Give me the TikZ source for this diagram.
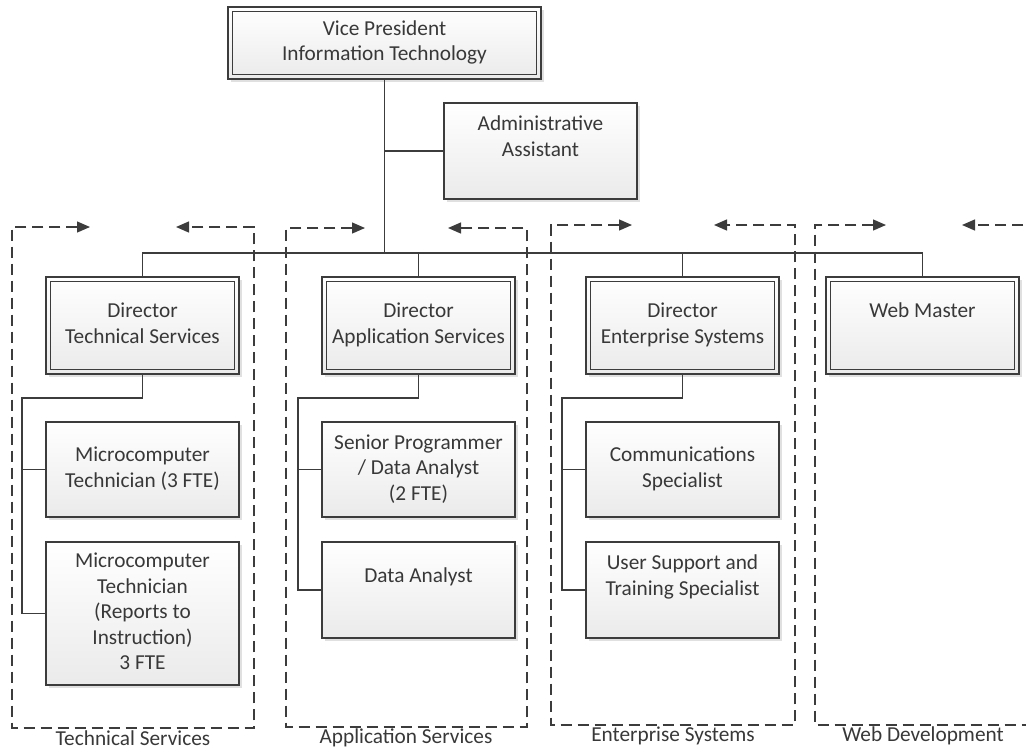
\documentclass[tikz,border=0pt]{standalone}
\usepackage{fontspec}
\setmainfont{Carlito}
\usetikzlibrary{arrows.meta,shadows}
\definecolor{ln}{HTML}{3C3C3C}
\definecolor{tx}{HTML}{383838}
\begin{document}
\begin{tikzpicture}[x=1pt,y=-1pt,
  txt/.style={text=tx, font=\fontsize{21.3}{25.5}\selectfont},
  box/.style={txt, draw=ln, line width=1.4pt, top color=white, bottom color=black!8,
    inner sep=0pt, align=center, minimum width=193pt, minimum height=95pt,
    general shadow={fill=black!12, shadow xshift=2.5pt, shadow yshift=-2.5pt}},
  dbox/.style={box, path picture={\draw[ln, line width=1.2pt]
      ([xshift=4.3pt,yshift=-4.3pt]path picture bounding box.north west) rectangle
      ([xshift=-4.3pt,yshift=4.3pt]path picture bounding box.south east);}},
  link/.style={draw=ln, line width=1.5pt},
  frame/.style={draw=ln, line width=1.3pt, dash pattern=on 11pt off 6pt, line join=miter},
  tip/.style={-{Triangle[length=13pt,width=11pt]}},
  flab/.style={txt, inner sep=0pt}
]
\useasboundingbox (0,0) rectangle (1026,750);
\clip (0,0) rectangle (1026,750);

% dashed team frames
\draw[frame, {Triangle[length=13pt,width=11pt]}-{Triangle[length=13pt,width=11pt]}]
  (90,227) -- (12,227) -- (12,728) -- (254,728) -- (254,227) -- (176,227);
\draw[frame, {Triangle[length=13pt,width=11pt]}-{Triangle[length=13pt,width=11pt]}]
  (365,228) -- (286,228) -- (286,727) -- (527,727) -- (527,228) -- (448,228);
\draw[frame, {Triangle[length=13pt,width=11pt]}-{Triangle[length=13pt,width=11pt]}]
  (632,225) -- (551,225) -- (551,725) -- (795,725) -- (795,225) -- (714,225);
\draw[frame, {Triangle[length=13pt,width=11pt]}-]
  (886,225) -- (815,225) -- (815,725) -- (1040,725);
\draw[frame, tip] (1040,225) -- (962,225);

\node[flab] (lts) at (133,738) {Technical Services};
\node[flab] (las) at (406,738) {Application Services};
\node[flab] (les) at (673,736) {Enterprise Systems};
\node[flab] (lwd) at (923,736) {Web Development};

% boxes
\node[dbox, minimum width=313pt, minimum height=72pt] (vp) at (384.5,43)
  {\strut Vice President\\\strut Information Technology};
\node[box, minimum height=96pt] (admin) at (540.5,151)
  {\strut Administrative\\\strut Assistant\\\strut};

\node[dbox, minimum height=97pt] (ts) at (142.5,325.5)
  {\strut Director\\\strut Technical Services};
\node[dbox, minimum height=97pt] (as) at (418.5,325.5)
  {\strut Director\\\strut Application Services};
\node[dbox, minimum height=97pt] (es) at (682.5,325.5)
  {\strut Director\\\strut Enterprise Systems};
\node[dbox, minimum height=97pt] (wm) at (922.5,325.5)
  {\strut Web Master\\\strut};

\node[box] (mt1) at (142.5,469.5)
  {\strut Microcomputer\\\strut Technician (3 FTE)};
\node[box, minimum height=143pt] (mt2) at (142.5,613.5)
  {\strut Microcomputer\\\strut Technician\\\strut (Reports to\\\strut Instruction)\\\strut 3 FTE};
\node[box] (sp) at (418.5,469.5)
  {\strut Senior Programmer\\\strut / Data Analyst\\\strut (2 FTE)};
\node[box, minimum height=96pt] (da) at (418.5,590)
  {\strut Data Analyst\\\strut};
\node[box] (cs) at (682.5,469.5)
  {\strut Communications\\\strut Specialist};
\node[box, minimum height=96pt] (us) at (682.5,590)
  {\strut User Support and\\\strut Training Specialist\\\strut};

% connectors
\coordinate (bus) at (0,253);
\draw[link] (vp.south) -- (vp.south |- bus);
\draw[link] (vp.south |- admin.west) -- (admin.west);
\draw[link] (ts.north) -- (ts.north |- bus) -- (wm.north |- bus) -- (wm.north);
\draw[link] (as.north) -- (as.north |- bus);
\draw[link] (es.north) -- (es.north |- bus);

\coordinate (tsr) at (22,398);
\coordinate (asr) at (298,398);
\coordinate (esr) at (562,398);
\draw[link] (ts.south) |- (tsr) |- (mt2.west);
\draw[link] (tsr |- mt1.west) -- (mt1.west);
\draw[link] (as.south) |- (asr) |- (da.west);
\draw[link] (asr |- sp.west) -- (sp.west);
\draw[link] (es.south) |- (esr) |- (us.west);
\draw[link] (esr |- cs.west) -- (cs.west);
\end{tikzpicture}
\end{document}
